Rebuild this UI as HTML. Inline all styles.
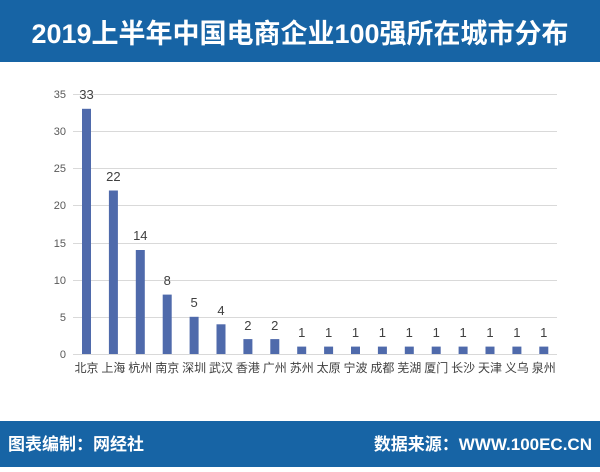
<!DOCTYPE html>
<html><head><meta charset="utf-8"><style>
body{margin:0;width:600px;height:467px;background:#fff;overflow:hidden;font-family:"Liberation Sans","Noto Sans CJK SC",sans-serif}
</style></head><body>
<svg width="600" height="467" xmlns="http://www.w3.org/2000/svg" font-family="Liberation Sans, Noto Sans CJK SC, sans-serif">
<rect x="0" y="0" width="600" height="62" fill="#1764a5"/>
<text x="300" y="43" text-anchor="middle" font-size="27" font-weight="bold" fill="#fff">2019上半年中国电商企业100强所在城市分布</text>
<rect x="0" y="421" width="600" height="46" fill="#1764a5"/>
<text x="8" y="450" font-size="17" font-weight="bold" fill="#fff">图表编制：网经社</text>
<text x="592" y="450" text-anchor="end" font-size="17" font-weight="bold" fill="#fff">数据来源：WWW.100EC.CN</text>
<g stroke="#d9d9d9" stroke-width="1">
<line x1="73" x2="557" y1="94.5" y2="94.5"/><line x1="73" x2="557" y1="131.5" y2="131.5"/>
<line x1="73" x2="557" y1="168.5" y2="168.5"/><line x1="73" x2="557" y1="205.5" y2="205.5"/>
<line x1="73" x2="557" y1="243.5" y2="243.5"/><line x1="73" x2="557" y1="280.5" y2="280.5"/>
<line x1="73" x2="557" y1="317.5" y2="317.5"/><line x1="73" x2="557" y1="354.5" y2="354.5"/>
</g>
<g font-size="11" fill="#595959" text-anchor="end">
<text x="66" y="98">35</text><text x="66" y="135">30</text><text x="66" y="172">25</text><text x="66" y="209">20</text>
<text x="66" y="247">15</text><text x="66" y="284">10</text><text x="66" y="321">5</text><text x="66" y="358">0</text>
</g>
<g fill="#4f6aab">
<rect x="82" y="108.8" width="9" height="245.2"/>
<rect x="108.9" y="190.5" width="9" height="163.5"/>
<rect x="135.8" y="250" width="9" height="104"/>
<rect x="162.7" y="294.6" width="9" height="59.4"/>
<rect x="189.6" y="316.8" width="9" height="37.2"/>
<rect x="216.5" y="324.3" width="9" height="29.7"/>
<rect x="243.4" y="339.1" width="9" height="14.9"/>
<rect x="270.3" y="339.1" width="9" height="14.9"/>
<rect x="297.2" y="346.6" width="9" height="7.4"/>
<rect x="324.1" y="346.6" width="9" height="7.4"/>
<rect x="351" y="346.6" width="9" height="7.4"/>
<rect x="377.9" y="346.6" width="9" height="7.4"/>
<rect x="404.8" y="346.6" width="9" height="7.4"/>
<rect x="431.7" y="346.6" width="9" height="7.4"/>
<rect x="458.6" y="346.6" width="9" height="7.4"/>
<rect x="485.5" y="346.6" width="9" height="7.4"/>
<rect x="512.4" y="346.6" width="9" height="7.4"/>
<rect x="539.3" y="346.6" width="9" height="7.4"/>
</g>
<g font-size="13" fill="#404040" text-anchor="middle">
<text x="86.5" y="99">33</text><text x="113.4" y="181">22</text><text x="140.3" y="240">14</text>
<text x="167.2" y="285">8</text><text x="194.1" y="307">5</text><text x="221" y="315">4</text>
<text x="247.9" y="330">2</text><text x="274.8" y="330">2</text>
<text x="301.7" y="337">1</text><text x="328.6" y="337">1</text><text x="355.5" y="337">1</text>
<text x="382.4" y="337">1</text><text x="409.3" y="337">1</text><text x="436.2" y="337">1</text>
<text x="463.1" y="337">1</text><text x="490" y="337">1</text><text x="516.9" y="337">1</text><text x="543.8" y="337">1</text>
</g>
<g font-size="12" fill="#404040" text-anchor="middle">
<text x="86.5" y="372">北京</text><text x="113.4" y="372">上海</text><text x="140.3" y="372">杭州</text>
<text x="167.2" y="372">南京</text><text x="194.1" y="372">深圳</text><text x="221" y="372">武汉</text>
<text x="247.9" y="372">香港</text><text x="274.8" y="372">广州</text><text x="301.7" y="372">苏州</text>
<text x="328.6" y="372">太原</text><text x="355.5" y="372">宁波</text><text x="382.4" y="372">成都</text>
<text x="409.3" y="372">芜湖</text><text x="436.2" y="372">厦门</text><text x="463.1" y="372">长沙</text>
<text x="490" y="372">天津</text><text x="516.9" y="372">义乌</text><text x="543.8" y="372">泉州</text>
</g>
</svg>
</body></html>
